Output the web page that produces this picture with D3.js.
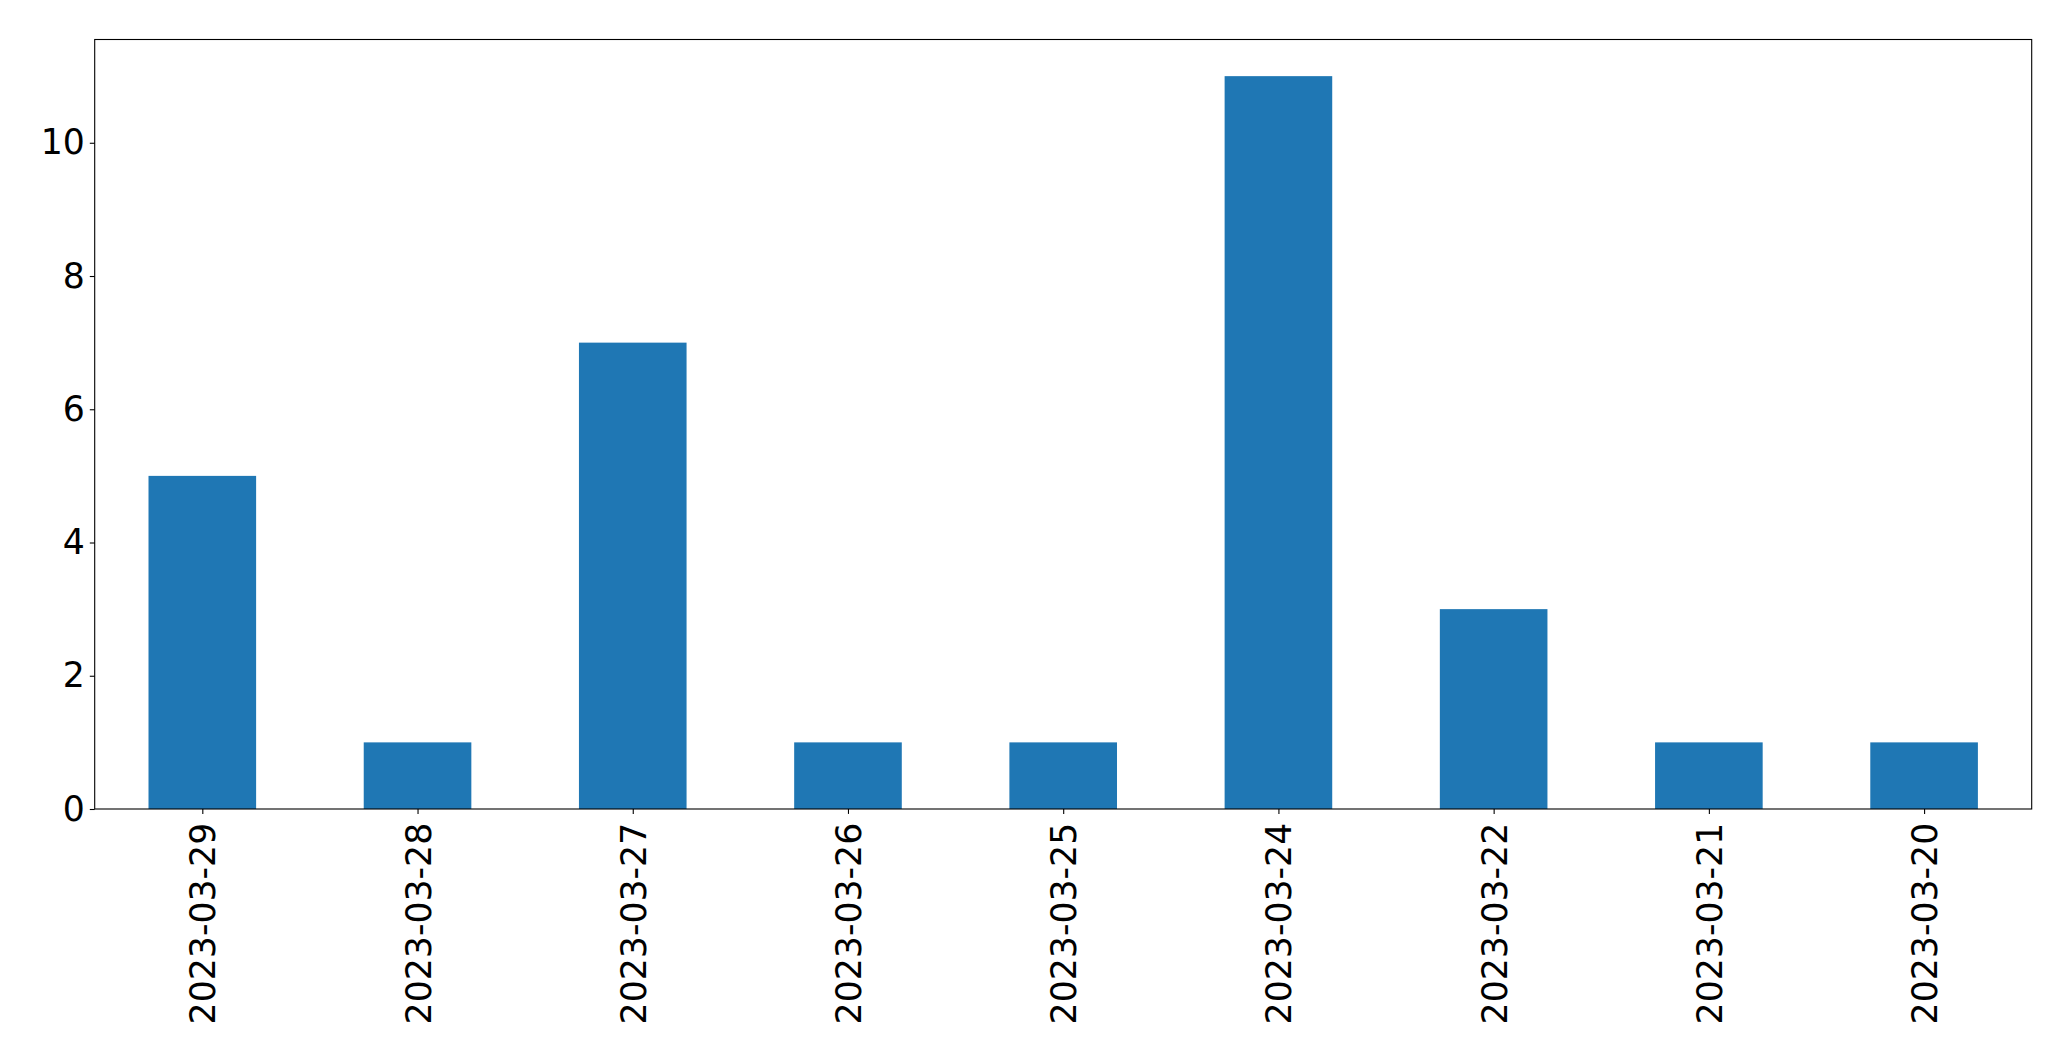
<!DOCTYPE html>
<html><head><meta charset="utf-8">
<script src="https://cdn.jsdelivr.net/npm/d3@7"></script>
<style>html,body{margin:0;padding:0;background:#fff;}svg{display:block;}</style>
</head><body>
<script>
const categories = ["2023-03-29","2023-03-28","2023-03-27","2023-03-26","2023-03-25","2023-03-24","2023-03-22","2023-03-21","2023-03-20"];
const values = [5,1,7,1,1,11,3,1,1];
const yTicks = [0,2,4,6,8,10];

(function () {
const W = 2071, H = 1061;
const mLeft = 94.7, mRight = 2031.7, mTop = 39.5, mBottom = 809;
const fontSize = 34.7, tickLen = 4.9, pad = 4.9;

const svg = d3.select("body").append("svg").attr("width", W).attr("height", H);

const x = d3.scaleLinear().domain([-0.5, categories.length - 0.5]).range([mLeft, mRight]);
const yMax = d3.max(values) * 1.05;
const y = d3.scaleLinear().domain([0, yMax]).range([mBottom, mTop]);
const bw = (x(1) - x(0)) * 0.5;

svg.append("g").selectAll("rect").data(values).join("rect")
  .attr("x", (d, i) => x(i) - bw / 2)
  .attr("width", bw)
  .attr("y", d => y(d))
  .attr("height", d => y(0) - y(d))
  .attr("fill", "#1f77b4");

svg.append("rect").attr("x", mLeft).attr("y", mTop).attr("width", mRight - mLeft).attr("height", mBottom - mTop)
  .attr("fill", "none").attr("stroke", "#000").attr("stroke-width", 1.1);

const yAxis = d3.axisLeft(y).tickValues(yTicks).tickFormat(d3.format("d")).tickSize(tickLen).tickPadding(pad);
const gy = svg.append("g").attr("transform", `translate(${mLeft},0)`).call(yAxis);
gy.select(".domain").remove();
gy.selectAll("line").attr("stroke", "#000").attr("stroke-width", 1.1);
gy.selectAll("text").attr("font-family", "DejaVu Sans").attr("font-size", fontSize).attr("fill", "#000");

const xAxis = d3.axisBottom(x).tickValues(d3.range(categories.length)).tickFormat(i => categories[i]).tickSize(tickLen).tickPadding(pad);
const gx = svg.append("g").attr("transform", `translate(0,${mBottom})`).call(xAxis);
gx.select(".domain").remove();
gx.selectAll("line").attr("stroke", "#000").attr("stroke-width", 1.1);
gx.selectAll("text")
  .attr("font-family", "DejaVu Sans").attr("font-size", fontSize).attr("fill", "#000")
  .attr("text-anchor", "end")
  .attr("transform", "rotate(-90)")
  .attr("x", -(tickLen + pad + 4))
  .attr("y", 0)
  .attr("dy", "0.36em");
})();
</script>
</body></html>
